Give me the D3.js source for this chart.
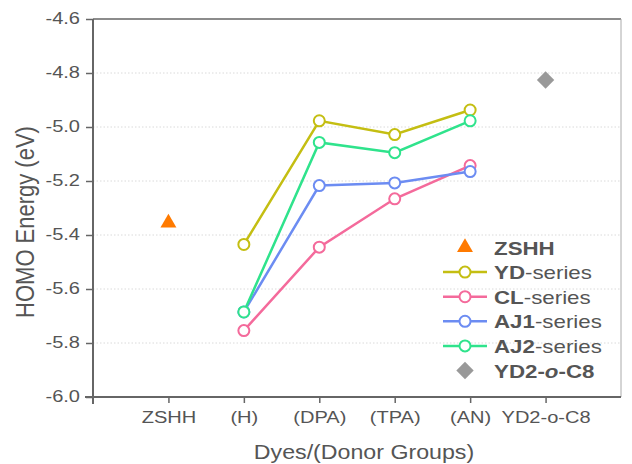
<!DOCTYPE html>
<html><head><meta charset="utf-8">
<script src="https://cdn.jsdelivr.net/npm/d3@7"></script>
<style>body{margin:0;background:#fff}svg{display:block}</style>
</head><body><svg id="c" width="632" height="464"></svg>
<script>
const categories = ["ZSHH","(H)","(DPA)","(TPA)","(AN)","YD2-o-C8"];
const seriesCats = ["(H)","(DPA)","(TPA)","(AN)"];
const zshh = -5.355;
const ydSeries = [-5.435,-4.977,-5.028,-4.937];
const clSeries = [-5.754,-5.445,-5.266,-5.143];
const aj1Series = [-5.685,-5.217,-5.207,-5.165];
const aj2Series = [-5.685,-5.057,-5.095,-4.977];
const yd2oc8 = -4.826;
const yTicks = [-4.6,-4.8,-5.0,-5.2,-5.4,-5.6,-5.8,-6.0];

const series = [
  {name:"YD", vals:ydSeries, color:"#c4be12"},
  {name:"CL", vals:clSeries, color:"#f46a9b"},
  {name:"AJ1", vals:aj1Series, color:"#6c8cf2"},
  {name:"AJ2", vals:aj2Series, color:"#2fe38c"}
];

const svg = d3.select("#c");
const L=93, R=621, T=19, B=397;
const x = d3.scaleLinear().domain([0,7]).range([L,R]);
const xc = c => x(categories.indexOf(c)+1);
const y = d3.scaleLinear().domain([-6.0,-4.6]).range([B,T]);
const axisCol="#666", txtCol="#555";
const font="Liberation Sans, Arial, sans-serif";

// grid
svg.append("g").selectAll("line").data(yTicks.slice(1,-1)).join("line")
  .attr("x1",L).attr("x2",R).attr("y1",d=>y(d)).attr("y2",d=>y(d))
  .attr("stroke","#dadada").attr("stroke-width",1).attr("stroke-dasharray","1.5,2");

// box top/right
svg.append("line").attr("x1",L).attr("x2",R).attr("y1",T).attr("y2",T).attr("stroke",axisCol).attr("stroke-width",1.5);
svg.append("line").attr("x1",R).attr("x2",R).attr("y1",T).attr("y2",B).attr("stroke","#aaa").attr("stroke-width",1);

// axes
const yAxis = d3.axisLeft(y).tickValues(yTicks).tickFormat(d3.format(".1f")).tickSizeInner(7).tickSizeOuter(0);
const gy = svg.append("g").attr("transform",`translate(${L},0)`).call(yAxis);
gy.select(".domain").attr("stroke",axisCol).attr("stroke-width",2).attr("d",`M0,${T}V${B+7}`);
gy.selectAll(".tick line").attr("stroke",axisCol).attr("stroke-width",1.5);
gy.selectAll("text").attr("fill",txtCol).style("font-family",font).style("font-size","17px")
  .attr("x",0).attr("dy","0.36em").attr("transform","translate(-13,-2) scale(1.18,1)")
  .text(d=>d3.format(".1f")(d).replace("−","-"));

const xAxis = d3.axisBottom(x).tickValues(d3.range(1,7)).tickFormat(i=>categories[i-1]).tickSizeInner(6).tickSizeOuter(0);
const gx = svg.append("g").attr("transform",`translate(0,${B})`).call(xAxis);
gx.select(".domain").attr("stroke",axisCol).attr("stroke-width",2).attr("d",`M${L-8},0H${R}`);
gx.selectAll(".tick line").attr("stroke",axisCol).attr("stroke-width",1.5);
gx.selectAll("text").attr("fill",txtCol).style("font-family",font).style("font-size","17px")
  .attr("y",0).attr("dy",0).attr("transform","translate(0,26) scale(1.18,1)");

// titles
svg.append("text").attr("transform","translate(364,459) scale(1.16,1)").attr("text-anchor","middle").attr("fill",txtCol)
  .style("font-family",font).style("font-size","20px").text("Dyes/(Donor Groups)");
svg.append("text").attr("transform","translate(34,222) rotate(-90) scale(1,1.15)").attr("text-anchor","middle").attr("fill",txtCol)
  .style("font-family",font).style("font-size","22px").text("HOMO Energy (eV)");

// series
const line = d3.line().x((d,i)=>xc(seriesCats[i])).y(d=>y(d));
series.forEach(s=>{
  svg.append("path").datum(s.vals).attr("d",line).attr("fill","none").attr("stroke",s.color).attr("stroke-width",2.5);
});
series.forEach(s=>{
  svg.append("g").selectAll("circle").data(s.vals).join("circle")
    .attr("cx",(d,i)=>xc(seriesCats[i])).attr("cy",d=>y(d)).attr("r",5.5)
    .attr("fill","#fff").attr("stroke",s.color).attr("stroke-width",2);
});

// single points
svg.append("path").attr("d",d3.symbol(d3.symbolTriangle,110)())
  .attr("transform",`translate(${xc("ZSHH")},${y(zshh)})`).attr("fill","#ff7a00");
svg.append("path").attr("d",d3.symbol(d3.symbolSquare,150)())
  .attr("transform",`translate(${xc("YD2-o-C8")},${y(yd2oc8)}) rotate(45)`).attr("fill","#999");

// legend
const lg = svg.append("g").style("font-family",font).style("font-size","18px");
const rows=[
  {type:"tri",color:"#ff7a00",bold:"ZSHH",rest:""},
  {type:"line",color:series[0].color,bold:"YD",rest:"-series"},
  {type:"line",color:series[1].color,bold:"CL",rest:"-series"},
  {type:"line",color:series[2].color,bold:"AJ1",rest:"-series"},
  {type:"line",color:series[3].color,bold:"AJ2",rest:"-series"},
  {type:"dia",color:"#999",bold:"YD2-",rest:""}
];
rows.forEach((r,i)=>{
  const yy=247.5+i*24.6;
  const g=lg.append("g").attr("transform",`translate(0,${yy})`);
  if(r.type==="line"){
    g.append("line").attr("x1",443).attr("x2",487).attr("y1",0).attr("y2",0).attr("stroke",r.color).attr("stroke-width",2.5);
    g.append("circle").attr("cx",465).attr("cy",0).attr("r",5.5).attr("fill","#fff").attr("stroke",r.color).attr("stroke-width",2);
  } else if(r.type==="tri"){
    g.append("path").attr("d",d3.symbol(d3.symbolTriangle,110)()).attr("transform","translate(465,0)").attr("fill",r.color);
  } else {
    g.append("path").attr("d",d3.symbol(d3.symbolSquare,150)()).attr("transform","translate(465,0) rotate(45)").attr("fill",r.color);
  }
  const t=g.append("text").attr("transform","translate(494,7) scale(1.24,1)").attr("fill",txtCol);
  t.append("tspan").attr("font-weight","bold").text(r.bold);
  if(r.type==="dia"){
    t.append("tspan").attr("font-weight","bold").attr("font-style","italic").text("o");
    t.append("tspan").attr("font-weight","bold").text("-C8");
  } else if(r.rest) t.append("tspan").text(r.rest);
});
</script></body></html>
